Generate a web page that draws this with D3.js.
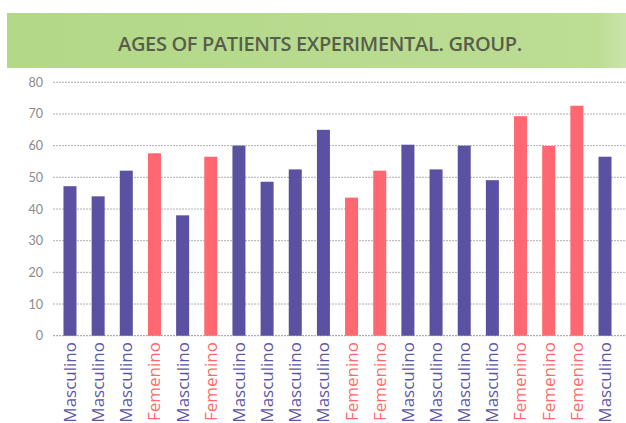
<!DOCTYPE html>
<html>
<head>
<meta charset="utf-8">
<script src="https://cdn.jsdelivr.net/npm/d3@7"></script>
<style>
  html, body { margin: 0; padding: 0; background: #ffffff; }
  svg { display: block; }
</style>
</head>
<body>
<svg id="chart" width="626" height="423"></svg>
<script>
const title = "AGES OF PATIENTS EXPERIMENTAL. GROUP.";
const categories = ["Masculino","Masculino","Masculino","Femenino","Masculino","Femenino","Masculino","Masculino","Masculino","Masculino",
                    "Femenino","Femenino","Masculino","Masculino","Masculino","Masculino","Femenino","Femenino","Femenino","Masculino"];
const ages = [47.2, 44, 52.1, 57.6, 38, 56.5, 60, 48.6, 52.5, 65,
              43.6, 52.1, 60.3, 52.5, 60, 49.1, 69.3, 59.9, 72.6, 56.5];
const yTicks = [0, 10, 20, 30, 40, 50, 60, 70, 80];

const colors = { "Masculino": "#5a51a2", "Femenino": "#ff6870" };
const labelColors = { "Masculino": "#5d56a6", "Femenino": "#ff6a6a" };

const svg = d3.select("#chart");

// Banner
const defs = svg.append("defs");
const grad = defs.append("linearGradient").attr("id", "bannerGrad").attr("x1", "0").attr("x2", "1");
grad.append("stop").attr("offset", "0%").attr("stop-color", "#b3d888");
grad.append("stop").attr("offset", "95%").attr("stop-color", "#bbdd94");
grad.append("stop").attr("offset", "100%").attr("stop-color", "#c9e4a9");
svg.append("rect")
  .attr("x", 7).attr("y", 13).attr("width", 619).attr("height", 55)
  .attr("fill", "url(#bannerGrad)");
svg.append("text")
  .attr("x", 320).attr("y", 51)
  .attr("text-anchor", "middle")
  .attr("font-family", "'Open Sans', sans-serif")
  .attr("font-weight", 600)
  .attr("font-size", 20)
  .attr("letter-spacing", -0.35)
  .attr("fill", "#585e4a")
  .text(title);

// Scales
const x = d3.scaleBand()
  .domain(d3.range(categories.length))
  .range([55.9, 619.1])
  .paddingInner(0.538)
  .paddingOuter(0.269);
const y = d3.scaleLinear().domain([0, 80]).range([335.7, 82.3]);

// Gridlines
svg.append("g")
  .selectAll("line")
  .data(yTicks)
  .join("line")
  .attr("x1", 53).attr("x2", 626)
  .attr("y1", d => y(d)).attr("y2", d => y(d))
  .attr("stroke", d => d === 0 ? "#9a9a9a" : "#b0b0b0")
  .attr("stroke-width", 1)
  .attr("stroke-dasharray", "2,1");

// Y axis labels
const yAxis = d3.axisLeft(y).tickValues(yTicks).tickSize(0).tickPadding(0);
const yg = svg.append("g").attr("transform", "translate(43,0)").call(yAxis);
yg.select(".domain").remove();
yg.selectAll("text")
  .attr("font-family", "Lato, sans-serif")
  .attr("font-size", 12.5)
  .attr("fill", "#8a8a8a");

// Bars
svg.append("g")
  .selectAll("rect")
  .data(ages)
  .join("rect")
  .attr("x", (d, i) => x(i))
  .attr("width", x.bandwidth())
  .attr("y", d => y(d))
  .attr("height", d => y(0) - y(d))
  .attr("fill", (d, i) => colors[categories[i]]);

// X labels
const xAxis = d3.axisBottom(x).tickSize(0).tickPadding(0).tickFormat(i => categories[i]);
const xg = svg.append("g").attr("transform", "translate(0,342)").call(xAxis);
xg.select(".domain").remove();
xg.selectAll("text")
  .attr("transform", "rotate(-90)")
  .attr("text-anchor", "end")
  .attr("x", 0)
  .attr("y", 0)
  .attr("dy", "0.35em")
  .attr("font-family", "'Open Sans', sans-serif")
  .attr("font-size", 17)
  .attr("fill", (i) => labelColors[categories[i]]);
</script>
</body>
</html>
